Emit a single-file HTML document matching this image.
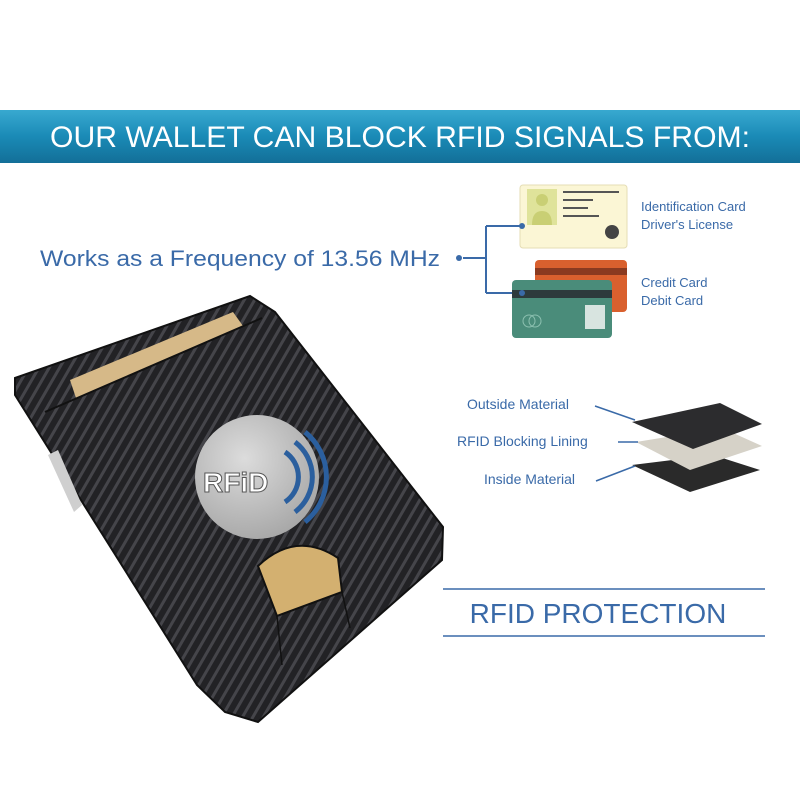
<!DOCTYPE html>
<html><head><meta charset="utf-8"><style>
body{margin:0;width:800px;height:800px;background:#fff;overflow:hidden;font-family:"Liberation Sans",sans-serif;}
</style></head><body>
<svg width="800" height="800" viewBox="0 0 800 800" xmlns="http://www.w3.org/2000/svg">
<defs>
<linearGradient id="bn" x1="0" y1="0" x2="0" y2="1"><stop offset="0" stop-color="#38a9d0"/><stop offset="0.5" stop-color="#1a8ab6"/><stop offset="1" stop-color="#136f98"/></linearGradient>
<pattern id="cf" width="9" height="9" patternUnits="userSpaceOnUse" patternTransform="rotate(-60)">
<rect width="9" height="9" fill="#222225"/><rect width="9" height="3" fill="#45454a"/></pattern>
<radialGradient id="rg" cx="0.4" cy="0.35" r="0.7"><stop offset="0" stop-color="#dcdcdc"/><stop offset="1" stop-color="#a6a6a6"/></radialGradient>
<clipPath id="wc"><polygon points="15,378 250,296 275,312 443,527 442,560 258,722 225,712 197,685 15,395"/></clipPath>
</defs>
<rect x="0" y="110" width="800" height="53" fill="url(#bn)"/>
<text x="400" y="147" fill="#fff" font-size="30" text-anchor="middle" textLength="700" lengthAdjust="spacingAndGlyphs">OUR WALLET CAN BLOCK RFID SIGNALS FROM:</text>
<text x="40" y="266" fill="#3a6aa8" font-size="22" textLength="400" lengthAdjust="spacingAndGlyphs">Works as a Frequency of 13.56 MHz</text>
<g stroke="#3a6aa8" stroke-width="2" fill="none"><path d="M463 258H486M486 226V293M486 226H522M486 293H522"/></g>
<circle cx="459" cy="258" r="3" fill="#3a6aa8"/>
<rect x="520" y="185" width="107" height="63" rx="3" fill="#fbf6d5" stroke="#e5ddb5"/>
<rect x="527" y="189" width="30" height="36" fill="#dfe39a"/>
<circle cx="542" cy="200" r="6" fill="#c9cf74"/><path d="M532 225q0-14 10-14t10 14z" fill="#c9cf74"/>
<g stroke="#555" stroke-width="2"><path d="M563 192h56M563 200h30M563 208h25M563 216h36"/></g>
<circle cx="612" cy="232" r="7" fill="#444"/>
<rect x="535" y="260" width="92" height="52" rx="4" fill="#d9602e"/>
<rect x="535" y="268" width="92" height="7" fill="#8a3a20"/>
<rect x="512" y="280" width="100" height="58" rx="4" fill="#4a8c7a"/>
<rect x="512" y="290" width="100" height="8" fill="#2d3a3c"/>
<rect x="585" y="305" width="20" height="24" fill="#d8e4e0"/>
<circle cx="529" cy="321" r="6" fill="none" stroke="#8cc0b0"/><circle cx="535" cy="321" r="6" fill="none" stroke="#8cc0b0"/>
<circle cx="522" cy="226" r="3" fill="#3a6aa8"/><circle cx="522" cy="293" r="3" fill="#3a6aa8"/>
<g fill="#3a6aa8" font-size="13"><text x="641" y="211">Identification Card</text><text x="641" y="229">Driver's License</text><text x="641" y="287">Credit Card</text><text x="641" y="305">Debit Card</text></g>
<polygon points="632,465 713,455 760,470 690,492" fill="#2a2a2a"/>
<polygon points="636,442 722,428 762,446 690,470" fill="#d6d2c8"/>
<polygon points="632,422 720,403 762,424 693,449" fill="#2c2c2e"/>
<g stroke="#3a6aa8" stroke-width="1.5"><path d="M595 406L635 420M618 442H638M596 481L635 466"/></g>
<g fill="#3a6aa8" font-size="14"><text x="467" y="409">Outside Material</text><text x="457" y="446">RFID Blocking Lining</text><text x="484" y="484">Inside Material</text></g>
<path d="M443 589H765M443 636H765" stroke="#3a6aa8" stroke-width="1.5"/>
<text x="598" y="623" fill="#3a6aa8" font-size="28" text-anchor="middle">RFID PROTECTION</text>
<polygon points="15,378 250,296 275,312 443,527 442,560 258,722 225,712 197,685 15,395" fill="url(#cf)" stroke="#111" stroke-width="2"/>
<g clip-path="url(#wc)">
<polygon points="70,380 233,312 243,326 76,398" fill="#d6b988"/>
<path d="M45 412L262 318" stroke="#111" stroke-width="2"/>
<path d="M258 566Q296 530 338 558L342 592L277 616Z" fill="#d3b070" stroke="#111" stroke-width="2"/>
<path d="M277 616L282 665M342 592L350 628" stroke="#111" stroke-width="1.5"/>
</g>
<polygon points="48,455 58,450 82,505 74,512" fill="#cfcfcf"/>
<circle cx="257" cy="477" r="62" fill="url(#rg)"/>
<g fill="none" stroke="#2b5f9e" stroke-width="5"><path d="M285 452a30 30 0 0 1 0 50"/><path d="M295 442a44 44 0 0 1 0 70"/><path d="M305 432a58 58 0 0 1 0 90"/></g>
<text x="203" y="492" fill="#fff" stroke="#555" stroke-width="1" font-size="28" font-weight="bold">RFiD</text>
</svg>
</body></html>
